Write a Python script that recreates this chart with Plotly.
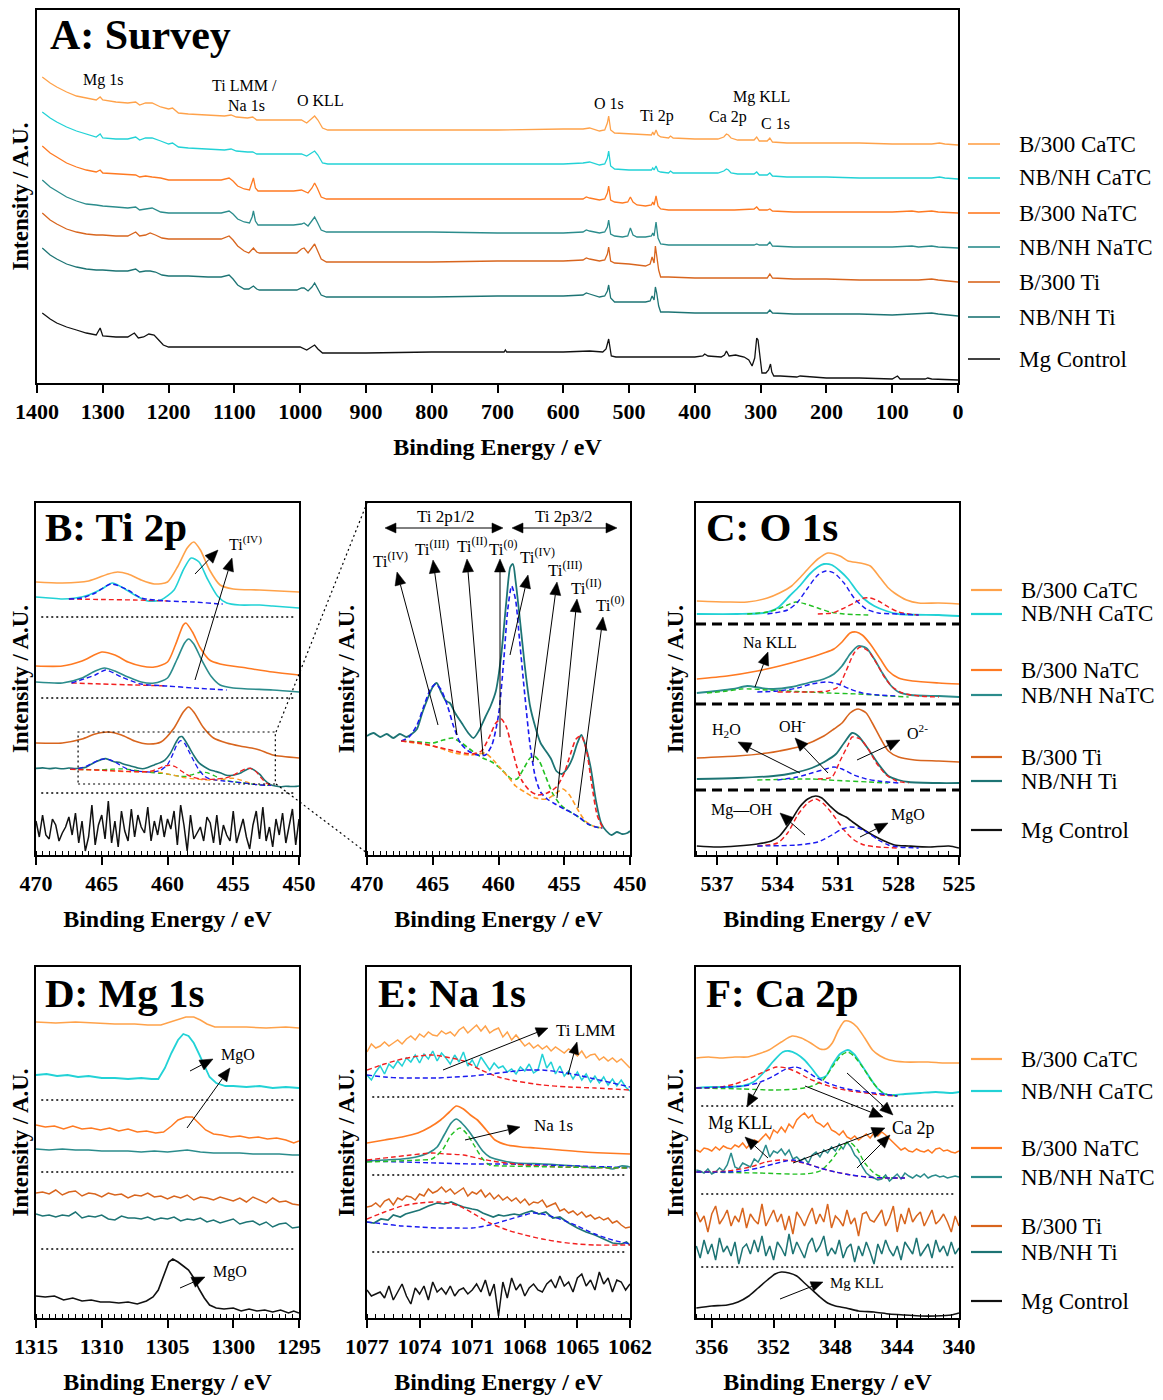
import numpy as np
import plotly.graph_objects as go

W, H = 1163, 1400          # reference picture size
PAGE_PAD = 8               # the browser page puts the figure 8px in from the top-left corner
FW, FH = W - PAGE_PAD, H - PAGE_PAD
SERIF = "Liberation Serif"

# ------------------------------------------------------------------ data
SAMPLES = ["B/300 CaTC", "NB/NH CaTC", "B/300 NaTC", "NB/NH NaTC", "B/300 Ti", "NB/NH Ti", "Mg Control"]
COLORS = ["#FFA24A", "#22D2D6", "#FF7A22", "#2B8C8C", "#D8651E", "#1D7474", "#111111"]
FIT_RED, FIT_BLUE, FIT_GREEN, FIT_ORANGE = "#F22020", "#1A1AF0", "#22C022", "#FF9A22"

# ---- A: survey (binding energy eV, relative intensity) ----
A_OFFSET = [238, 204, 170, 135, 101, 67, 3]
A_B300_CATC = [(1392,68),(1380,62),(1370,58),(1355,53),(1340,49),(1325,47),(1310,45),(1304,48),(1300,45),(1280,43),(1262,42),(1250,43),(1244,40),(1235,42),(1225,42),(1212,38),(1200,36),(1194,37),(1185,32),(1170,31),(1140,30),(1115,29),(1105,30),(1097,28),(1080,27),(1072,28),(1066,25),(1040,25),(1010,25),(998,25),(990,22),(982,27),(978,29),(973,25),(966,17),(958,15),(900,15),(800,15),(700,15),(600,16),(570,16),(560,17),(545,14),(537,15),(533,22),(531,29),(528,15),(522,12),(500,11),(475,10),(466,10),(464,13),(462,10),(459,15),(456,10),(452,8),(440,7),(437,9),(433,7),(400,6),(365,6),(356,8),(352,11),(349,10),(345,7),(335,5),(310,5),(306,8),(302,4),(290,4),(286,7),(282,3),(260,2),(200,2),(150,2),(100,1),(50,1),(40,1),(28,2),(20,1),(0,0)]
A_NBNH_CATC = [(1392,67),(1380,61),(1370,57),(1355,52),(1340,48),(1325,45),(1310,42),(1304,45),(1300,41),(1280,40),(1262,40),(1250,42),(1244,39),(1235,41),(1225,41),(1212,38),(1200,35),(1194,36),(1185,32),(1170,31),(1140,30),(1115,29),(1105,30),(1097,28),(1080,27),(1072,27),(1066,25),(1040,25),(1010,25),(998,25),(990,23),(982,26),(978,28),(973,24),(966,16),(958,15),(900,15),(800,15),(700,15),(600,15),(570,16),(560,17),(545,14),(537,15),(533,21),(531,28),(528,13),(522,10),(500,9),(475,9),(466,9),(464,11),(462,9),(459,13),(456,8),(452,7),(440,6),(437,8),(433,6),(400,6),(365,6),(356,8),(352,10),(349,9),(345,6),(335,5),(310,5),(306,7),(302,4),(290,4),(286,6),(282,3),(260,2),(200,2),(150,1),(100,1),(50,1),(40,1),(28,2),(20,1),(0,0)]
A_B300_NATC = [(1392,67),(1380,60),(1370,56),(1355,50),(1340,46),(1325,43),(1310,41),(1304,43),(1300,40),(1280,39),(1262,38),(1250,38),(1244,36),(1235,37),(1225,36),(1212,35),(1200,33),(1180,33),(1150,33),(1120,33),(1108,35),(1102,32),(1095,27),(1085,24),(1077,23),(1073,30),(1071,35),(1068,25),(1064,22),(1040,22),(1010,22),(998,23),(994,22),(988,20),(982,25),(978,30),(974,25),(968,16),(960,14),(900,14),(800,14),(700,14),(600,14),(570,14),(565,16),(560,15),(545,13),(537,14),(533,20),(531,27),(528,13),(522,11),(510,10),(502,11),(498,16),(494,11),(488,8),(475,7),(466,8),(464,11),(462,8),(459,17),(456,7),(452,4),(440,3),(400,3),(360,3),(340,3),(310,4),(306,6),(302,3),(290,3),(286,4),(282,2),(250,1),(200,1),(150,1),(100,1),(70,2),(60,1),(40,2),(30,1),(0,0)]
A_NBNH_NATC = [(1392,68),(1380,61),(1370,57),(1355,51),(1340,47),(1325,44),(1310,43),(1300,42),(1280,41),(1262,40),(1250,41),(1244,38),(1235,39),(1225,40),(1212,36),(1200,35),(1180,35),(1150,35),(1120,35),(1108,37),(1102,34),(1095,29),(1085,26),(1077,25),(1073,31),(1071,37),(1068,27),(1064,23),(1040,23),(1010,23),(998,24),(994,25),(988,22),(982,27),(978,31),(974,26),(968,18),(960,16),(900,16),(800,16),(700,15),(600,15),(570,16),(565,18),(560,17),(545,15),(537,16),(533,21),(531,28),(528,14),(522,12),(510,11),(502,12),(498,20),(494,13),(488,11),(475,11),(466,12),(464,15),(462,12),(459,26),(456,10),(452,4),(440,3),(400,3),(360,3),(340,3),(310,3),(306,4),(302,3),(290,3),(286,6),(282,2),(250,1),(200,1),(150,1),(100,1),(70,2),(60,1),(40,2),(30,1),(0,0)]
A_B300_TI = [(1392,69),(1380,62),(1370,58),(1355,53),(1340,50),(1325,48),(1310,47),(1300,47),(1280,46),(1262,46),(1250,50),(1244,46),(1235,47),(1228,49),(1220,47),(1210,44),(1200,43),(1170,43),(1140,43),(1120,43),(1108,46),(1102,42),(1095,36),(1085,31),(1078,29),(1073,33),(1071,34),(1066,30),(1062,29),(1030,29),(1005,29),(998,33),(994,34),(988,29),(982,34),(978,38),(974,32),(968,23),(960,20),(900,20),(800,20),(700,21),(600,21),(570,22),(565,24),(560,23),(545,21),(537,22),(533,28),(531,35),(528,21),(522,19),(500,18),(475,16),(468,18),(465,25),(462,19),(460,36),(458,28),(455,12),(452,5),(440,5),(400,4),(360,4),(320,4),(290,4),(286,8),(282,4),(250,3),(200,3),(150,2),(100,2),(60,2),(40,3),(30,2),(0,0)]
A_NBNH_TI = [(1392,68),(1380,61),(1370,57),(1355,52),(1340,49),(1325,47),(1310,46),(1300,46),(1280,45),(1262,45),(1250,47),(1244,44),(1235,45),(1228,45),(1220,44),(1210,41),(1200,40),(1170,40),(1140,39),(1120,39),(1108,41),(1102,37),(1095,31),(1085,27),(1078,27),(1073,29),(1071,30),(1066,27),(1062,26),(1030,26),(1005,26),(998,28),(994,28),(988,25),(982,29),(978,33),(974,28),(968,21),(960,19),(900,19),(800,19),(700,20),(600,20),(570,21),(565,23),(560,22),(545,19),(537,20),(533,25),(531,31),(528,18),(522,14),(500,14),(475,14),(468,15),(465,20),(462,16),(460,29),(458,23),(455,10),(452,4),(440,4),(400,3),(360,3),(320,3),(290,3),(286,6),(282,3),(250,2),(200,2),(150,2),(100,1),(60,2),(40,3),(30,2),(0,0)]
A_MG = [(1392,67),(1380,61),(1370,57),(1355,53),(1340,50),(1325,47),(1310,45),(1304,52),(1300,44),(1280,43),(1262,43),(1252,47),(1246,42),(1238,43),(1230,46),(1222,45),(1215,40),(1208,35),(1200,33),(1150,33),(1100,33),(1050,33),(1000,33),(990,30),(983,33),(978,35),(973,31),(966,27),(900,27),(800,28),(700,28),(690,28),(688,30),(686,28),(600,28),(560,29),(540,28),(535,31),(531,41),(527,24),(520,23),(450,23),(400,23),(388,24),(385,26),(380,24),(360,23),(355,25),(352,29),(348,24),(342,25),(338,25),(332,24),(325,23),(318,20),(313,14),(309,22),(306,42),(304,40),(301,22),(298,7),(292,7),(288,10),(285,16),(283,8),(280,4),(270,4),(245,3),(240,4),(200,2),(150,2),(100,1),(92,4),(88,1),(50,1),(46,2),(40,1),(0,0)]

# ---- B: Ti 2p ----
B_OFFSET = [263, 247, 180, 163, 97, 69, 0]
B_B300_CATC = [(470,10),(468,9),(466,11),(464.5,18),(463.8,20),(463,18),(462,12),(461,8),(460,10),(459.2,26),(458.5,44),(458.0,50),(457.5,42),(456.8,22),(456,7),(455,3),(453,2),(450,0)]
B_NBNH_CATC = [(470,11),(469,10),(468,9),(467,10),(466,13),(465,19),(464.2,25),(463.5,21),(462.5,13),(461.5,7),(460.5,8),(459.5,18),(458.8,38),(458.2,50),(457.6,46),(457,30),(456.2,12),(455.5,5),(454.5,3),(453,3),(452,2),(451,1),(450,0)]
B_NBNH_CATC_FIT_RED = [(467.5,9),(465,8.5),(462.5,8),(460,7)]
B_NBNH_CATC_FIT_BLUE = [(467.5,9),(466.5,10),(465.5,15),(464.3,24),(463,18),(462,10),(460,7),(458,6),(456,4),(455.8,4)]
B_B300_NATC = [(470,9),(468,9),(466.5,14),(465,23),(464,20),(463,13),(462,9),(461,8),(460,13),(459.4,30),(458.8,50),(458.6,52),(458.1,43),(457.5,27),(456.8,15),(456,11),(454,7),(452,3),(450,0)]
B_NBNH_NATC = [(470,10),(468,9),(466.5,14),(465.5,21),(464.8,24),(464,21),(463,15),(462,10),(461,9),(460,14),(459.3,32),(458.7,49),(458.4,53),(458,48),(457.4,32),(456.7,16),(456,7),(455,4),(452,2),(450,0)]
B_NBNH_NATC_FIT_RED = [(467.3,9),(465,8),(462.5,7),(460,6)]
B_NBNH_NATC_FIT_BLUE = [(467.3,9),(465.5,17),(464.7,22),(463.5,15),(462,8),(460,6),(458,4),(455.5,2)]
B_B300_TI = [(470,15),(468,15),(466.5,19),(465.5,24),(464.5,26),(463.5,23),(462.5,17),(461.5,14),(460.5,16),(459.5,30),(458.8,46),(458.4,51),(458,46),(457.3,31),(456.5,20),(455.5,15),(454.5,12),(453.6,10),(453,8),(452,3),(450,0)]
B_MG = [34,18,40,20,16,36,30,14,22,28,38,20,42,12,34,4,18,50,10,30,40,16,54,12,34,8,44,24,14,46,18,40,28,22,48,14,34,20,40,18,36,26,44,10,50,30,4,40,16,22,28,14,38,32,12,40,10,30,20,14,44,12,24,36,18,6,30,44,16,48,14,28,8,36,20,42,12,30,46,10,36]
B_TI_SCALE = 0.185   # display scale of the NB/NH Ti spectrum in the stacked panel
B_TI_BASE = 24

# ---- B (zoom): NB/NH Ti, Ti 2p with fitted components ----
TI2P_NBNH_TI = [(470.0,119),(469.5,122),(469.0,118),(468.5,121),(468.0,117),(467.5,121),(467.0,118),(466.6,121),(466.2,126),(465.8,142),(465.4,156),(465.0,168),(464.7,172),(464.4,164),(464.0,154),(463.7,152),(463.3,142),(462.8,132),(462.3,122),(461.9,117),(461.5,124),(461.0,138),(460.6,149),(460.2,164),(459.8,199),(459.4,254),(459.1,288),(458.9,291),(458.7,274),(458.4,239),(458.0,189),(457.6,149),(457.2,128),(456.8,112),(456.4,104),(456.0,96),(455.6,84),(455.2,81),(454.8,86),(454.4,96),(454.0,112),(453.7,120),(453.4,110),(453.0,88),(452.6,55),(452.2,32),(451.8,24),(451.4,20),(451.0,23),(450.6,21),(450.2,22),(450.0,24)]
TI2P_FIT_BLUE = [(467.4,114),(466.8,118),(466.2,130),(465.7,148),(465.2,165),(464.8,171),(464.4,166),(463.9,150),(463.4,128),(462.9,112),(462.3,104),(461.6,100),(461.0,100),(460.5,110),(460.0,140),(459.6,195),(459.3,245),(459.0,269),(458.7,255),(458.4,215),(458.0,160),(457.6,110),(457.2,78),(456.8,63),(456.3,56),(455.7,51),(455.0,46),(454.4,42),(453.8,37),(453.2,31),(452.6,28),(452.1,27)]
TI2P_FIT_RED = [(467.4,114),(466.0,112),(465.0,109),(464.0,106),(463.0,103),(462.0,101),(461.3,104),(460.7,118),(460.2,132),(459.8,136),(459.4,128),(459.0,108),(458.6,88),(458.2,74),(457.6,64),(457.0,60),(456.3,62),(455.6,68),(455.0,82),(454.5,102),(454.1,116),(453.7,119),(453.3,104),(452.9,70),(452.5,40),(452.1,28)]
TI2P_FIT_GREEN = [(467.4,114),(466.0,113),(465.0,112),(464.2,115),(463.5,117),(462.8,112),(462.0,104),(461.2,97),(460.5,93),(460.0,88),(459.5,82),(459.0,76),(458.6,76),(458.1,86),(457.6,97),(457.3,99),(456.9,94),(456.4,78),(455.9,62),(455.4,52),(455.0,47),(454.4,42),(453.8,37),(453.2,31),(452.6,28),(452.1,27)]
TI2P_FIT_ORANGE = [(467.4,114),(465.0,109),(463.3,102),(462.2,100),(461.5,101),(461.0,102),(460.4,95),(459.8,86),(459.2,77),(458.7,69),(458.0,63),(457.2,57),(456.3,56),(455.6,62),(455.1,66),(454.6,60),(454.0,46),(453.4,34),(452.8,29),(452.1,27)]

# ---- C: O 1s ----
C_OFFSET = [251, 239, 171, 158, 93, 72, 7]
C_B300_CATC = [(538,3),(536.5,2),(535.5,2),(534.5,6),(533.9,11),(533.3,18),(532.9,26),(532.4,37),(532.0,45),(531.5,51),(530.9,48),(530.5,43),(529.9,41),(529.4,38),(528.9,26),(528.5,16),(528.2,11),(527.6,4),(527.0,1),(526,1),(525,0)]
C_NBNH_CATC = [(538,2),(536,2),(534.7,3),(534.0,8),(533.4,20),(532.9,30),(532.4,42),(532.0,49),(531.7,52),(531.3,51),(530.9,45),(530.5,37),(530.1,26),(529.7,17),(529.2,10),(528.6,5),(528,2),(526,1),(525,0)]
C_NBNH_CATC_FIT_BLUE = [(534.5,2),(533.5,6),(533,14),(532.5,28),(532,41),(531.6,45),(531.2,43),(530.7,33),(530.2,18),(529.6,7),(529,3),(528,2),(527,1)]
C_NBNH_CATC_FIT_GREEN = [(535.5,2),(534.5,4),(534,7),(533.5,11),(533.1,14),(532.6,12),(532,8),(531.4,4),(530.7,2),(529.5,1)]
C_NBNH_CATC_FIT_RED = [(532,2),(531.3,3),(530.8,7),(530.2,13),(529.7,18),(529.4,18),(529,15),(528.5,9),(528,4),(527.5,2),(527,1)]
C_B300_NATC = [(538,5),(536.5,8),(535,13),(533.9,18),(532.8,24),(531.7,31),(531.2,35),(530.8,42),(530.4,51),(530.1,52),(529.8,49),(529.4,40),(528.9,25),(528.5,13),(528.0,6),(527.3,3),(526,1),(525,0)]
C_NBNH_NATC = [(538,4),(537,6),(536.2,8),(535.5,11),(534.8,9),(534.2,8),(533.3,10),(532.5,14),(531.7,18),(531.2,23),(530.8,31),(530.4,43),(530.0,51),(529.6,49),(529.2,38),(528.8,24),(528.4,12),(528.0,5),(527.4,2),(526,1),(525,0)]
C_NBNH_NATC_FIT_RED = [(534,5),(532.5,5),(531.5,6),(531,10),(530.6,26),(530.2,44),(529.9,50),(529.5,46),(529.1,34),(528.7,20),(528.3,10),(527.8,4),(527,1),(526,0)]
C_NBNH_NATC_FIT_BLUE = [(535,5),(534,6),(533,9),(532.3,13),(531.6,15),(531,13),(530.4,8),(529.8,4),(529,2),(528,1)]
C_NBNH_NATC_FIT_GREEN = [(537.5,4),(536.5,6),(535.8,8),(535.3,8),(534.5,7),(533.5,6),(532.5,5),(531.5,4),(530,3),(528.5,1),(527.5,0)]
C_B300_TI = [(538,4),(536,6),(534.5,9),(533.9,11),(532.8,16),(531.7,26),(531.2,33),(530.8,39),(530.4,49),(530.0,53),(529.6,49),(529.3,39),(528.9,24),(528.5,11),(528.0,5),(527.2,2),(526,1),(525,0)]
C_NBNH_TI = [(538,4),(536,5),(534.2,7),(533.2,10),(532.3,15),(531.6,22),(531.1,29),(530.7,40),(530.3,50),(530.0,47),(529.5,34),(529.0,19),(528.5,7),(528.0,3),(527.5,1),(526,0),(525,0)]
C_NBNH_TI_FIT_RED = [(532,4),(531.3,6),(530.9,22),(530.5,38),(530.3,46),(529.9,44),(529.5,34),(529.1,20),(528.6,8),(528.1,2),(527.5,0)]
C_NBNH_TI_FIT_BLUE = [(534,3),(533,6),(532.3,10),(531.6,14),(531.2,16),(530.8,14),(530.2,8),(529.6,4),(529,2),(528,0)]
C_NBNH_TI_FIT_GREEN = [(535,3),(534,3.5),(533,4),(532.3,4),(531.5,3),(530.5,2),(529.5,1),(528.5,0)]
C_MG = [(538,2),(537,1),(536,2),(535,4),(534.3,7),(533.9,12),(533.4,25),(532.9,41),(532.5,49),(532.1,52),(531.8,50),(531.4,42),(531.0,35),(530.6,31),(530.2,25),(529.7,18),(529.2,12),(528.7,7),(528.2,3),(527.5,2),(526.5,1),(525.5,2),(525,0)]
C_MG_FIT_RED = [(535,2),(534,5),(533.5,15),(533,33),(532.5,45),(532.1,49),(531.7,44),(531.2,32),(530.7,18),(530.2,8),(529.7,3),(529,1),(528,0)]
C_MG_FIT_BLUE = [(535,2),(533,3),(532,6),(531.3,13),(530.8,19),(530.4,21),(530,20),(529.5,15),(529,8),(528.5,3),(528,1),(527,0)]

# ---- D: Mg 1s ----
D_OFFSET = [290, 230, 176, 163, 112, 88, 5]
D_B300_CATC = [(1315,6),(1313.5,5),(1312,6),(1310.5,5),(1309,4),(1307.5,4),(1306.5,3),(1305.5,3),(1304.8,6),(1304.2,9),(1303.6,11),(1303.0,11),(1302.5,8),(1302,4),(1301.4,1),(1300.5,1),(1299,1),(1297.5,0),(1296,1),(1295,0)]
D_NBNH_CATC = [(1315,13),(1314.2,14),(1313.4,12),(1312.6,13),(1311.8,11),(1311,12),(1310,10),(1309,10),(1308,9),(1307,10),(1306.2,9),(1305.7,9),(1305.2,20),(1304.7,35),(1304.2,48),(1303.8,54),(1303.4,52),(1303.0,45),(1302.6,34),(1302.2,22),(1301.8,11),(1301.3,5),(1300.6,2),(1300,2),(1299,1),(1298,2),(1297,0),(1296,1),(1295,0)]
D_B300_NATC = [(1315,17),(1314.3,15),(1313.6,16),(1312.9,13),(1312.2,16),(1311.5,13),(1310.8,14),(1310.1,12),(1309.4,14),(1308.7,11),(1308,13),(1307.3,10),(1306.6,11),(1305.9,9),(1305.3,10),(1304.7,16),(1304.2,22),(1303.6,25),(1303.1,25),(1302.6,18),(1302.1,12),(1301.5,8),(1300.9,7),(1300.2,5),(1299.5,6),(1298.8,4),(1298.1,5),(1297.4,3),(1296.7,4),(1296,2),(1295.4,-1),(1295,1)]
D_NBNH_NATC = [(1315,6),(1314,5),(1313,6),(1312,5),(1311,5),(1310,4),(1309,4),(1308,4),(1307,3),(1306,4),(1305,3),(1304,4),(1303.5,5),(1302.5,3),(1301.5,2),(1300.5,2),(1299.5,2),(1298.5,1),(1297.5,1),(1296.5,1),(1295.5,0),(1295,0)]
D_B300_TI = [13,14,12,16,11,14,15,10,13,12,9,13,11,12,8,11,10,13,9,10,7,10,8,11,6,9,8,6,9,7,5,8,4,9,6,3,8,4,5,2,1]
D_NBNH_TI = [16,14,15,13,15,14,18,12,14,13,15,11,10,14,12,12,11,13,10,12,11,13,9,11,10,12,8,10,7,9,11,6,8,9,5,8,3,6,7,2,3]
D_MG = [(1315,17),(1314.3,16),(1313.6,17),(1312.9,13),(1312.2,15),(1311.5,12),(1310.8,13),(1310.1,11),(1309.4,11),(1308.7,10),(1308,11),(1307.3,9),(1306.6,12),(1306.1,16),(1305.7,23),(1305.3,38),(1304.9,51),(1304.6,54),(1304.2,51),(1303.8,47),(1303.4,43),(1303,35),(1302.6,24),(1302.2,15),(1301.8,8),(1301.3,5),(1300.7,4),(1300,5),(1299.4,2),(1298.8,4),(1298.2,2),(1297.6,3),(1297,1),(1296.4,3),(1295.8,0),(1295.4,2),(1295,0)]

# ---- E: Na 1s ----
E_OFFSET = [248, 230, 164, 151, 91, 73, 0]
E_B300_CATC = [18,26,22,24,28,24,27,30,26,31,34,30,36,33,38,35,34,39,36,38,34,40,43,37,41,45,39,44,37,40,42,33,38,30,35,29,24,27,22,25,21,24,19,23,20,17,21,18,14,19,12,15,16,10,13,9,12,8,11,6,2]
E_NBNH_CATC = [13,8,16,22,14,24,20,27,22,30,26,33,25,34,29,37,27,35,30,24,33,26,36,22,28,20,31,24,18,25,20,22,16,19,14,21,17,24,15,18,34,20,26,14,22,12,17,9,16,8,14,6,12,5,11,3,9,2,8,1,-3]
E_NBNH_CATC_FIT_RED = [(1077,18),(1076,24),(1075,29),(1074,32),(1073.3,33),(1072.5,31),(1071.5,27),(1070.5,18),(1069.5,11),(1068.5,7),(1067,3),(1065.5,1),(1064,0),(1062,-2)]
E_NBNH_CATC_FIT_BLUE = [(1077,13),(1076,11),(1075,10),(1074,10),(1073,10),(1072,11),(1071,12),(1070,14),(1069,16),(1068,18),(1067.5,18),(1067,18),(1066,16),(1065,13),(1064,9),(1063,5),(1062,1)]
E_B300_NATC = [(1077,11),(1076,14),(1075,17),(1074.1,21),(1073.4,27),(1072.8,34),(1072.3,42),(1071.9,48),(1071.5,45),(1071.1,39),(1070.7,34),(1070.2,24),(1069.7,14),(1069,9),(1068.2,7),(1067.4,6),(1066,4),(1064.6,2),(1063.5,1),(1062,0)]
E_NBNH_NATC = [(1077,6),(1076,7),(1075,8),(1074.2,10),(1073.5,14),(1073,20),(1072.6,32),(1072.2,44),(1071.9,48),(1071.6,44),(1071.2,36),(1070.8,26),(1070.4,16),(1070,10),(1069.2,6),(1068.5,4),(1067,3),(1066,2),(1065,1),(1064,-1),(1063.5,0),(1063,-2),(1062.5,1),(1062,0)]
E_NBNH_NATC_FIT_GREEN = [(1077,5),(1074,7),(1073.3,8),(1072.7,17),(1072.2,32),(1071.7,39),(1071.3,33),(1070.9,22),(1070.4,8),(1070,2),(1069,1),(1066,0),(1062,-1)]
E_NBNH_NATC_FIT_RED = [(1077,7),(1075.5,10),(1074.5,12),(1073.3,14),(1072.5,13),(1071.5,12),(1070.5,8),(1069.5,5),(1068,2),(1066,0),(1062,-1)]
E_NBNH_NATC_FIT_BLUE = [(1077,6),(1075,5),(1073,4),(1071,3),(1069,3),(1067,2),(1065,1),(1063,0),(1062,-1)]
E_B300_TI = [20,21,24,20,26,28,22,29,27,31,30,27,33,31,38,34,36,40,35,38,33,36,39,31,35,33,37,30,34,28,32,27,30,26,29,24,28,22,25,24,27,20,22,24,16,18,14,16,12,15,10,12,8,10,7,9,4,6,2,-1,0]
E_NBNH_TI = [(1077,23),(1076.6,22),(1076.2,26),(1075.8,25),(1075.5,30),(1075.1,28),(1074.8,31),(1074.4,33),(1074,35),(1073.5,39),(1073,42),(1072.6,41),(1072.2,43),(1071.8,40),(1071.5,38),(1071,36),(1070.7,35),(1070.4,32),(1069.8,28),(1069.5,30),(1069.2,29),(1068.6,31),(1068.3,30),(1068,32),(1067.6,34),(1067.2,31),(1066.8,33),(1066.4,27),(1066,28),(1065.5,22),(1065,17),(1064.5,13),(1064,10),(1063.5,6),(1063,2),(1062.5,1),(1062.2,3),(1062,0)]
E_NBNH_TI_FIT_RED = [(1077,26),(1076,33),(1075,39),(1074,42),(1073,43),(1072.3,42),(1071.5,37),(1070.7,29),(1070,22),(1069,15),(1068,10),(1067,6),(1066,3),(1065,1),(1064,0),(1062,0)]
E_NBNH_TI_FIT_BLUE = [(1077,23),(1076,21),(1075,19),(1074,18),(1073,17),(1072,17),(1071,17),(1070,20),(1069,25),(1068,30),(1067.5,32),(1067,31),(1066,26),(1065,19),(1064,11),(1063,5),(1062,1)]
E_MG = [28,22,24,26,20,32,18,26,34,22,14,30,24,32,18,36,26,30,24,32,22,28,30,24,28,34,26,38,22,34,2,36,20,40,28,34,22,30,34,28,26,34,38,30,42,32,36,26,40,44,32,38,28,46,34,40,26,38,36,28,34]

# ---- F: Ca 2p ----
F_OFFSET = [255, 226, 166, 141, 98, 68, 4]
F_B300_CATC = [(357,5),(356.2,6),(355.5,5),(354.5,6),(353.7,6),(353,9),(352.3,13),(351.5,21),(350.8,27),(350.2,25),(349.6,20),(349,14),(348.6,14),(348.2,20),(347.8,33),(347.4,42),(347.0,41),(346.6,36),(346.1,25),(345.6,13),(345.1,7),(344.5,3),(343.5,1),(342,1),(341,0),(340,0)]
F_NBNH_CATC = [(357,4),(356,5),(355,5),(354,6),(353.3,10),(352.6,20),(352,31),(351.4,40),(351,41),(350.5,38),(350,32),(349.5,23),(349,14),(348.6,16),(348.2,27),(347.7,38),(347.2,42),(346.8,38),(346.3,27),(345.8,15),(345.3,4),(344.8,-2),(344.3,-3),(343.5,-2),(342.5,-1),(341.5,0),(340.5,-1),(340,0)]
F_NBNH_CATC_FIT_RED = [(357,4),(355.5,5),(354.5,8),(353.5,14),(352.5,21),(351.8,25),(351.2,24),(350.5,20),(349.8,14),(349,9),(348,4),(347,1),(346,-1),(345,-3),(344,-4)]
F_NBNH_CATC_FIT_BLUE = [(357,4),(355,5),(354,6),(353,9),(352,16),(351.2,23),(350.6,25),(350,22),(349.3,15),(348.5,9),(347.5,4),(346.5,1),(345.5,-1),(344.5,-3),(344,-4)]
F_NBNH_CATC_FIT_GREEN = [(357,4),(354,3),(352,2),(350.5,3),(349.5,6),(348.8,12),(348.2,25),(347.6,37),(347.2,40),(346.8,36),(346.2,24),(345.6,10),(345,0),(344.5,-3),(343.8,-4)]
F_B300_NATC = [2,0,4,3,1,5,2,6,4,3,7,5,9,4,8,12,10,14,18,13,22,19,25,20,28,24,32,36,39,34,37,30,28,25,29,22,20,17,21,15,13,16,12,15,18,14,19,16,20,17,13,9,5,2,4,1,0,3,1,0,2,-1,3,4,1,2,0,-1,1]
F_NBNH_NATC = [7,6,4,8,3,5,9,6,12,24,10,8,14,12,10,18,15,22,32,20,26,24,28,22,27,18,20,16,19,14,22,25,20,27,24,30,26,33,28,35,30,22,18,10,4,1,-1,-3,-2,2,-4,0,3,-2,4,1,-1,2,0,3,-1,1,2,0,1,-1,0,1,0]
F_NBNH_NATC_FIT_RED = [(357,5),(355,6),(353.5,10),(352.5,15),(351.6,17),(350.7,16),(349.8,13),(349,9),(348,5),(347,2),(346,0),(345,-1),(343.5,-1)]
F_NBNH_NATC_FIT_BLUE = [(357,5),(355,5),(354,6),(353,9),(352,13),(351.2,16),(350.7,17),(350,14),(349,9),(348,5),(347,2),(346,0),(344.5,-1),(343.5,-1)]
F_NBNH_NATC_FIT_GREEN = [(357,5),(353,4),(350,3),(349,6),(348.3,16),(347.6,30),(347.1,35),(346.6,28),(346.1,14),(345.5,4),(345,0),(344,-1)]
F_B300_TI = [8,-2,4,-12,6,14,-4,2,10,-6,4,-2,12,-8,6,0,-4,16,-6,2,10,-2,6,-10,4,-14,8,2,-6,4,12,-4,6,-2,16,-8,4,0,-6,10,-4,2,-16,6,8,0,-2,4,10,-6,2,14,-12,6,-4,12,-2,4,8,-6,2,10,-4,0,6,-2,-12,4,-6]
F_NBNH_TI = [4,-8,10,-4,6,-10,12,-2,4,-6,8,-14,2,6,-4,10,-2,14,-6,4,-10,8,2,-6,16,-4,8,0,-8,6,12,-2,4,14,-6,2,-4,10,-8,2,6,-12,4,-6,8,-2,-14,6,-4,10,0,-6,4,-10,8,2,-4,12,-6,0,6,-8,10,-2,4,-6,8,-4,2]
F_MG = [(357,6),(356,8),(355,9),(354.3,12),(353.6,18),(353,26),(352.4,34),(351.9,40),(351.5,42),(351,41),(350.5,38),(350,31),(349.5,24),(349,17),(348.5,11),(348,8),(347.3,6),(346.5,3),(345.5,2),(344.5,0),(343.5,-1),(342.5,-2),(341.5,-2),(340.5,-1),(340,1)]

# ------------------------------------------------------------------ layout helpers
PANELS = {
    1: dict(x=(37, 958), y=(10, 383), xr=[1400, 0], tick0=0, dtick=100, minor=False),
    2: dict(x=(36, 299), y=(503, 855), xr=[470, 450], tick0=450, dtick=5, minor=True),
    3: dict(x=(367, 630), y=(503, 855), xr=[470, 450], tick0=450, dtick=5, minor=True),
    4: dict(x=(696, 959), y=(503, 855), xr=[538.04, 525], tick0=525, dtick=3, minor=True),
    5: dict(x=(36, 299), y=(967, 1318), xr=[1315, 1295], tick0=1295, dtick=5, minor=True),
    6: dict(x=(367, 630), y=(967, 1318), xr=[1077, 1062], tick0=1062, dtick=3, minor=True),
    7: dict(x=(696, 959), y=(967, 1318), xr=[357.02, 340], tick0=340, dtick=4, minor=True),
}


def PX(x):
    return (x - PAGE_PAD) / FW


def PY(y):
    return 1 - (y - PAGE_PAD) / FH


fig = go.Figure()


def sfx(n):
    return "" if n == 1 else str(n)


def add_line(ax, xs, ys, color, width=1.6, dash=None, shape="linear"):
    ln = dict(color=color, width=width, shape=shape)
    if dash:
        ln["dash"] = dash
    if shape == "spline":
        ln["smoothing"] = 0.7
    fig.add_trace(go.Scatter(x=list(xs), y=list(ys), mode="lines", line=ln,
                             xaxis="x" + sfx(ax), yaxis="y" + sfx(ax),
                             hoverinfo="skip", showlegend=False))


def spec(ax, pts, offset, color, width=1.6, dash=None, shape="spline", scale=1.0, base=0.0):
    xs = [p[0] for p in pts]
    ys = [offset + (p[1] - base) * scale for p in pts]
    add_line(ax, xs, ys, color, width, dash, shape)


def noisy(ax, e0, e1, vals, offset, color, width=1.5):
    xs = np.linspace(e0, e1, len(vals))
    ys = offset + np.array(vals, dtype=float)
    add_line(ax, xs, ys, color, width, None, "linear")


FIT_DASH = "5px,3px"

# ---- A traces
A_SERIES = [A_B300_CATC, A_NBNH_CATC, A_B300_NATC, A_NBNH_NATC, A_B300_TI, A_NBNH_TI, A_MG]
for i, pts in enumerate(A_SERIES):
    spec(1, pts, A_OFFSET[i], COLORS[i], width=1.3, shape="linear")

# ---- B traces
spec(2, B_B300_CATC, B_OFFSET[0], COLORS[0])
spec(2, B_NBNH_CATC, B_OFFSET[1], COLORS[1])
spec(2, B_NBNH_CATC_FIT_RED, B_OFFSET[1], FIT_RED, 1.4, FIT_DASH)
spec(2, B_NBNH_CATC_FIT_BLUE, B_OFFSET[1], FIT_BLUE, 1.4, FIT_DASH)
spec(2, B_B300_NATC, B_OFFSET[2], COLORS[2])
spec(2, B_NBNH_NATC, B_OFFSET[3], COLORS[3])
spec(2, B_NBNH_NATC_FIT_RED, B_OFFSET[3], FIT_RED, 1.4, FIT_DASH)
spec(2, B_NBNH_NATC_FIT_BLUE, B_OFFSET[3], FIT_BLUE, 1.4, FIT_DASH)
spec(2, B_B300_TI, B_OFFSET[4], COLORS[4])
spec(2, TI2P_NBNH_TI, B_OFFSET[5], COLORS[5], scale=B_TI_SCALE, base=B_TI_BASE)
for comp, col in [(TI2P_FIT_GREEN, FIT_GREEN), (TI2P_FIT_ORANGE, FIT_ORANGE), (TI2P_FIT_BLUE, FIT_BLUE), (TI2P_FIT_RED, FIT_RED)]:
    spec(2, comp, B_OFFSET[5], col, 1.3, FIT_DASH, scale=B_TI_SCALE, base=B_TI_BASE)
noisy(2, 470, 450, B_MG, B_OFFSET[6], COLORS[6], 1.5)

# ---- B zoom
spec(3, TI2P_NBNH_TI, 0, COLORS[5], 1.8)
for comp, col in [(TI2P_FIT_GREEN, FIT_GREEN), (TI2P_FIT_ORANGE, FIT_ORANGE), (TI2P_FIT_BLUE, FIT_BLUE), (TI2P_FIT_RED, FIT_RED)]:
    spec(3, comp, 0, col, 1.6, FIT_DASH)

# ---- C
spec(4, C_B300_CATC, C_OFFSET[0], COLORS[0])
spec(4, C_NBNH_CATC, C_OFFSET[1], COLORS[1], 1.8)
for comp, col in [(C_NBNH_CATC_FIT_GREEN, FIT_GREEN), (C_NBNH_CATC_FIT_RED, FIT_RED), (C_NBNH_CATC_FIT_BLUE, FIT_BLUE)]:
    spec(4, comp, C_OFFSET[1], col, 1.4, FIT_DASH)
spec(4, C_B300_NATC, C_OFFSET[2], COLORS[2])
spec(4, C_NBNH_NATC, C_OFFSET[3], COLORS[3], 1.8)
for comp, col in [(C_NBNH_NATC_FIT_GREEN, FIT_GREEN), (C_NBNH_NATC_FIT_RED, FIT_RED), (C_NBNH_NATC_FIT_BLUE, FIT_BLUE)]:
    spec(4, comp, C_OFFSET[3], col, 1.4, FIT_DASH)
spec(4, C_B300_TI, C_OFFSET[4], COLORS[4])
spec(4, C_NBNH_TI, C_OFFSET[5], COLORS[5], 1.8)
for comp, col in [(C_NBNH_TI_FIT_GREEN, FIT_GREEN), (C_NBNH_TI_FIT_RED, FIT_RED), (C_NBNH_TI_FIT_BLUE, FIT_BLUE)]:
    spec(4, comp, C_OFFSET[5], col, 1.4, FIT_DASH)
spec(4, C_MG, C_OFFSET[6], COLORS[6])
spec(4, C_MG_FIT_RED, C_OFFSET[6], FIT_RED, 1.4, FIT_DASH)
spec(4, C_MG_FIT_BLUE, C_OFFSET[6], FIT_BLUE, 1.4, FIT_DASH)

# ---- D
spec(5, D_B300_CATC, D_OFFSET[0], COLORS[0], 1.5, shape="linear")
spec(5, D_NBNH_CATC, D_OFFSET[1], COLORS[1], 1.8, shape="linear")
spec(5, D_B300_NATC, D_OFFSET[2], COLORS[2], 1.5, shape="linear")
spec(5, D_NBNH_NATC, D_OFFSET[3], COLORS[3], 1.5, shape="linear")
noisy(5, 1315, 1295, D_B300_TI, D_OFFSET[4], COLORS[4])
noisy(5, 1315, 1295, D_NBNH_TI, D_OFFSET[5], COLORS[5])
spec(5, D_MG, D_OFFSET[6], COLORS[6], 1.6, shape="linear")

# ---- E
noisy(6, 1077, 1062, E_B300_CATC, E_OFFSET[0], COLORS[0])
noisy(6, 1077, 1062, E_NBNH_CATC, E_OFFSET[1], COLORS[1])
spec(6, E_NBNH_CATC_FIT_RED, E_OFFSET[1], FIT_RED, 1.4, FIT_DASH)
spec(6, E_NBNH_CATC_FIT_BLUE, E_OFFSET[1], FIT_BLUE, 1.4, FIT_DASH)
spec(6, E_B300_NATC, E_OFFSET[2], COLORS[2], 1.7)
spec(6, E_NBNH_NATC, E_OFFSET[3], COLORS[3], 1.7)
for comp, col in [(E_NBNH_NATC_FIT_BLUE, FIT_BLUE), (E_NBNH_NATC_FIT_RED, FIT_RED), (E_NBNH_NATC_FIT_GREEN, FIT_GREEN)]:
    spec(6, comp, E_OFFSET[3], col, 1.4, FIT_DASH)
noisy(6, 1077, 1062, E_B300_TI, E_OFFSET[4], COLORS[4])
spec(6, E_NBNH_TI, E_OFFSET[5], COLORS[5], 1.7, shape="linear")
spec(6, E_NBNH_TI_FIT_RED, E_OFFSET[5], FIT_RED, 1.4, FIT_DASH)
spec(6, E_NBNH_TI_FIT_BLUE, E_OFFSET[5], FIT_BLUE, 1.4, FIT_DASH)
noisy(6, 1077, 1062, E_MG, E_OFFSET[6], COLORS[6])

# ---- F
spec(7, F_B300_CATC, F_OFFSET[0], COLORS[0])
spec(7, F_NBNH_CATC, F_OFFSET[1], COLORS[1], 1.8)
for comp, col in [(F_NBNH_CATC_FIT_GREEN, FIT_GREEN), (F_NBNH_CATC_FIT_RED, FIT_RED), (F_NBNH_CATC_FIT_BLUE, FIT_BLUE)]:
    spec(7, comp, F_OFFSET[1], col, 1.4, FIT_DASH)
noisy(7, 357, 340, F_B300_NATC, F_OFFSET[2], COLORS[2])
noisy(7, 357, 340, F_NBNH_NATC, F_OFFSET[3], COLORS[3])
for comp, col in [(F_NBNH_NATC_FIT_GREEN, FIT_GREEN), (F_NBNH_NATC_FIT_RED, FIT_RED), (F_NBNH_NATC_FIT_BLUE, FIT_BLUE)]:
    spec(7, comp, F_OFFSET[3], col, 1.4, FIT_DASH)
noisy(7, 357, 340, F_B300_TI, F_OFFSET[4], COLORS[4])
noisy(7, 357, 340, F_NBNH_TI, F_OFFSET[5], COLORS[5])
spec(7, F_MG, F_OFFSET[6], COLORS[6], 1.6)

# ------------------------------------------------------------------ axes
TITLE_FONT = dict(family=SERIF, size=24, color="black", weight="bold")
lay = {}
for n, p in PANELS.items():
    xa = dict(domain=[PX(p["x"][0]), PX(p["x"][1])], range=p["xr"], anchor="y" + sfx(n),
              showline=True, linewidth=2, linecolor="black", mirror=True, automargin=False,
              ticks="outside", ticklen=8, tickwidth=2, tickcolor="black",
              tick0=p["tick0"], dtick=p["dtick"],
              tickfont=dict(family=SERIF, size=22, color="black", weight="bold"),
              title=dict(text="Binding Energy / eV", font=TITLE_FONT, standoff=15),
              showgrid=False, zeroline=False)
    if p["minor"]:
        xa["minor"] = dict(ticks="inside", ticklen=4, tickwidth=1, tickcolor="black", dtick=0.5, showgrid=False)
    ya = dict(domain=[PY(p["y"][1]), PY(p["y"][0])], range=[0, p["y"][1] - p["y"][0]],
              anchor="x" + sfx(n), showline=True, linewidth=2, linecolor="black", mirror=True, automargin=False,
              showticklabels=False, ticks="", showgrid=False, zeroline=False,
              title=dict(text="Intensity / A.U.", font=dict(family=SERIF, size=23, color="black", weight="bold"),
                         standoff=4))
    lay["xaxis" + sfx(n)] = xa
    lay["yaxis" + sfx(n)] = ya

fig.update_layout(width=FW, height=FH, margin=dict(l=0, r=0, t=0, b=0, pad=0, autoexpand=False),
                  paper_bgcolor="white", plot_bgcolor="white", showlegend=False, **lay)


# ------------------------------------------------------------------ annotations
def text(x, y, s, size=16, bold=False, anchor="center", angle=0):
    fig.add_annotation(x=PX(x), y=PY(y), xref="paper", yref="paper", text=s, showarrow=False,
                       xanchor=anchor, yanchor="middle", textangle=angle,
                       font=dict(family=SERIF, size=size, color="black", weight="bold" if bold else "normal"))


def paper_line(x0, y0, x1, y1, width=1.5, dash=None, color="black"):
    ln = dict(color=color, width=width)
    if dash:
        ln["dash"] = dash
    fig.add_shape(type="line", xref="paper", yref="paper", x0=PX(x0), y0=PY(y0), x1=PX(x1), y1=PY(y1), line=ln)


def head(tx, ty, hx, hy, L, Wd):
    d = np.hypot(hx - tx, hy - ty)
    ux, uy = (hx - tx) / d, (hy - ty) / d
    bx, by = hx - L * ux, hy - L * uy
    nx, ny = -uy, ux
    pts = [(hx, hy), (bx + nx * Wd / 2, by + ny * Wd / 2), (bx - nx * Wd / 2, by - ny * Wd / 2)]
    path = "M " + " L ".join(f"{PX(x):.5f},{PY(y):.5f}" for x, y in pts) + " Z"
    fig.add_shape(type="path", xref="paper", yref="paper", path=path,
                  fillcolor="black", line=dict(color="black", width=0.5))
    return bx, by


def arrow(tx, ty, hx, hy, L=13, Wd=11, both=False):
    bx, by = head(tx, ty, hx, hy, L, Wd)
    sx, sy = tx, ty
    if both:
        sx, sy = head(hx, hy, tx, ty, L, Wd)
    paper_line(sx, sy, bx, by, 1.0)


def hline_shape(ax, yv, dash, width, x0=0.02, x1=0.98):
    fig.add_shape(type="line", xref="x" + sfx(ax) + " domain", yref="y" + sfx(ax), x0=x0, x1=x1, y0=yv, y1=yv,
                  line=dict(color="black", width=width, dash=dash))


# panel titles
text(48, 35, "A: Survey", 42, True, "left")
text(43, 527, "B: Ti 2p", 41, True, "left")
text(704, 527, "C: O 1s", 41, True, "left")
text(43, 993, "D: Mg 1s", 41, True, "left")
text(376, 993, "E: Na 1s", 41, True, "left")
text(704, 993, "F: Ca 2p", 41, True, "left")

# survey labels
for lx, ly, s in [(103, 80, "Mg 1s"), (244, 85, "Ti LMM /"), (246, 105, "Na 1s"), (320, 101, "O KLL"),
                  (609, 103, "O 1s"), (657, 116, "Ti 2p"), (728, 117, "Ca 2p"), (761, 97, "Mg KLL"), (775, 123, "C 1s")]:
    text(lx, ly, s, 16)

# legends
for i, ly in enumerate([144, 178, 213, 247, 282, 317, 359]):
    paper_line(968, ly, 1000, ly, 1.6, None, COLORS[i])
    text(1017, ly, SAMPLES[i], 23, False, "left")
for ys in ([590, 614, 670, 695, 757, 781, 830], [1059, 1091, 1148, 1177, 1226, 1252, 1301]):
    for i, ly in enumerate(ys):
        paper_line(971, ly, 1002, ly, 2.2, None, COLORS[i])
        text(1019, ly, SAMPLES[i], 23, False, "left")

# separators
for yv in [238, 157, 62]:
    hline_shape(2, yv, "2px,3px", 1.5)
for yv in [231, 151, 65]:
    hline_shape(4, yv, "10px,6px", 3, 0.0, 1.0)
for yv in [218, 146, 69]:
    hline_shape(5, yv, "2px,3px", 1.5)
for yv in [221, 143, 66]:
    hline_shape(6, yv, "2px,3px", 1.5)
for yv in [212, 124, 51]:
    hline_shape(7, yv, "2px,3px", 1.5)

# zoom box and connecting lines
fig.add_shape(type="rect", xref="x2", yref="y2", x0=466.8, x1=451.8, y0=71, y1=123,
              line=dict(color="black", width=1.2, dash="2px,3px"))
paper_line(276, 732, 367, 503, 1.2, "2px,3px")
paper_line(276, 784, 367, 853, 1.2, "2px,3px")

# B labels
text(245, 543, "Ti<sup>(IV)</sup>", 16)
arrow(195, 574, 218, 550)
arrow(195, 680, 232, 558)

# zoom panel labels
for lx, ly, s in [(390, 560, "Ti<sup>(IV)</sup>"), (432, 548, "Ti<sup>(III)</sup>"), (472, 545, "Ti<sup>(II)</sup>"),
                  (503, 548, "Ti<sup>(0)</sup>"), (537, 556, "Ti<sup>(IV)</sup>"), (565, 569, "Ti<sup>(III)</sup>"),
                  (586, 587, "Ti<sup>(II)</sup>"), (610, 604, "Ti<sup>(0)</sup>")]:
    text(lx, ly, s, 17)
for t, h in [((438, 725), (397, 572)), ((457, 735), (433, 560)), ((483, 755), (467, 559)), ((500, 737), (500, 559)),
             ((510, 655), (528, 575)), ((533, 762), (557, 582)), ((557, 798), (577, 599)), ((578, 808), (603, 617))]:
    arrow(t[0], t[1], h[0], h[1], 13, 11)
arrow(385, 528, 503, 528, 11, 10, both=True)
arrow(512, 528, 617, 528, 11, 10, both=True)
text(445, 517, "Ti 2p1/2", 17)
text(563, 517, "Ti 2p3/2", 17)

# C labels
text(770, 642, "Na KLL", 16)
arrow(755, 687, 768, 652)
text(727, 730, "H<sub>2</sub>O", 16)
arrow(800, 773, 738, 742)
text(792, 725, "OH<sup>-</sup>", 16)
arrow(828, 773, 795, 738)
text(917, 732, "O<sup>2-</sup>", 16)
arrow(857, 760, 900, 740)
text(742, 810, "Mg\u2014OH", 16)
arrow(805, 835, 780, 813)
text(908, 815, "MgO", 16)
arrow(860, 837, 888, 823)

# D labels
text(238, 1055, "MgO", 16)
arrow(190, 1071, 213, 1059)
arrow(187, 1128, 230, 1068)
text(230, 1272, "MgO", 16)
arrow(180, 1288, 205, 1277)

# E labels
text(585, 1030, "Ti LMM", 17)
arrow(443, 1070, 548, 1028, 12, 10)
arrow(568, 1075, 577, 1042, 12, 10)
text(553, 1125, "Na 1s", 17)
arrow(465, 1140, 520, 1127, 12, 10)

# F labels
text(740, 1123, "Mg KLL", 18)
arrow(760, 1083, 747, 1107)
arrow(768, 1158, 745, 1137)
text(913, 1128, "Ca 2p", 18)
arrow(805, 1086, 883, 1117)
arrow(847, 1073, 893, 1115)
arrow(793, 1163, 885, 1128)
arrow(857, 1168, 890, 1135)
text(857, 1283, "Mg KLL", 15)
arrow(780, 1299, 823, 1282, 12, 10)

fig.write_html("out.html")
